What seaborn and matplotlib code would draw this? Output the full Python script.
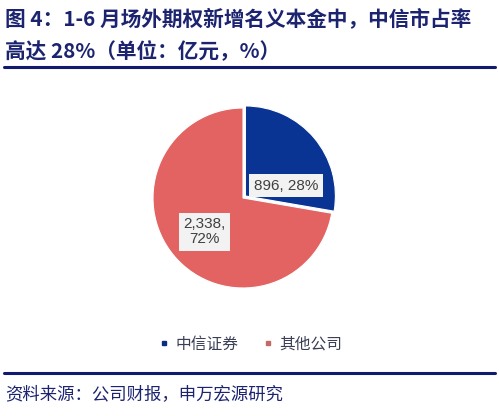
import numpy as np
import matplotlib
matplotlib.use("Agg")
import matplotlib.pyplot as plt
import seaborn as sns
from matplotlib.lines import Line2D

companies = ["中信证券", "其他公司"]
amounts = [896, 2338]
amount_labels = ["896, 28%", "2,338,\n72%"]
colors = ["#0a3494", "#e36363"]
legend_colors = ["#0b2c84", "#c46a66"]

title_lines = ["图 4：1-6 月场外期权新增名义本金中，中信市占率", "高达 28%（单位：亿元，%）"]
source_text = "资料来源：公司财报，申万宏源研究"

sns.set_theme(style="white")
plt.rcParams["font.family"] = ["Noto Sans CJK SC", "DejaVu Sans"]

fig = plt.figure(figsize=(4.99, 4.16), dpi=100)
fig.patch.set_facecolor("white")

W, H = 499, 416
cx, cy, r = 243, 198, 90
ax = fig.add_axes([(cx - r) / W, (H - cy - r) / H, 2 * r / W, 2 * r / H])

wedges, _ = ax.pie(
    amounts,
    colors=colors,
    startangle=90,
    counterclock=False,
    explode=[0.035, 0],
    wedgeprops=dict(edgecolor="white", linewidth=0.8),
)
ax.set_xlim(-1, 1)
ax.set_ylim(-1, 1)
ax.set_aspect("equal")
ax.axis("off")

# label positions: angle from wedge middle, nudged like the reference
label_pos = [(0.50, 16), (0.57, 221)]
for lab, (dist, ang) in zip(amount_labels, label_pos):
    a = np.deg2rad(ang)
    ax.text(dist * np.cos(a), dist * np.sin(a), lab, ha="center", va="center",
            fontsize=11, color="#404040", family=["Liberation Sans", "DejaVu Sans"],
            linespacing=1.1,
            bbox=dict(boxstyle="square,pad=0.3", facecolor="#f2f2f2", edgecolor="none"))

# title, two lines
for line, y in zip(title_lines, [20, 52]):
    fig.text(5 / W, 1 - y / H, line, ha="left", va="center", fontsize=14.9,
             fontweight="bold", color="#1c2470")

# rules
fig.add_artist(Line2D([4 / W, 495 / W], [1 - 67 / H, 1 - 67 / H], color="#101a6e", lw=2.2))
fig.add_artist(Line2D([4 / W, 495 / W], [1 - 373 / H, 1 - 373 / H], color="#101a6e", lw=2.2))

# legend
handles = [Line2D([0], [0], marker="s", linestyle="none", markersize=3.5,
                  markerfacecolor=c, markeredgecolor=c) for c in legend_colors]
fig.legend(handles, companies, loc="center", bbox_to_anchor=(251 / W, 1 - 344 / H),
           ncol=2, frameon=False, fontsize=11.3, labelcolor="#3a3f55",
           handlelength=0.6, handletextpad=0.4, columnspacing=1.6)

fig.text(5 / W, 1 - 394 / H, source_text, ha="left", va="center", fontsize=12.5,
         color="#1c2470")

fig.savefig("out.png", dpi=100, facecolor="white")
